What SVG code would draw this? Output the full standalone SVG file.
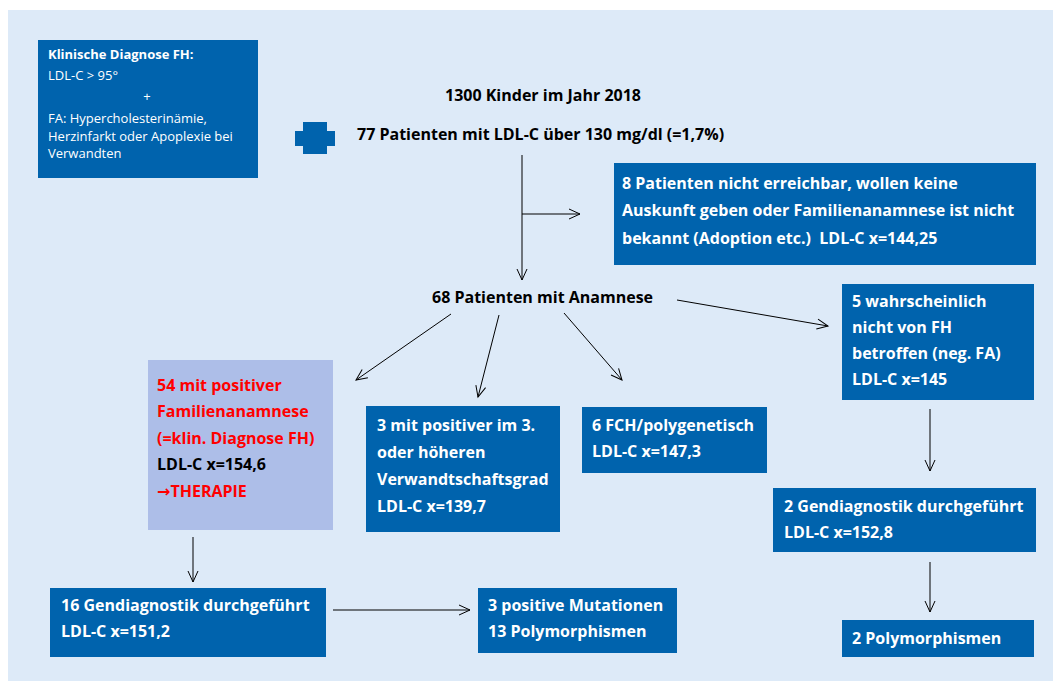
<svg xmlns="http://www.w3.org/2000/svg" width="1053" height="681" viewBox="0 0 1053 681">
<style>
.box{fill:#0063ad}
.lt{fill:#adbee8}
text{font-family:"Open Sans","Liberation Sans",sans-serif}
.w{fill:#fff;font-weight:bold;font-size:16px}
.b{fill:#000;font-weight:bold;font-size:16px}
.r{fill:#ff0000;font-weight:bold;font-size:16px}
.s{fill:#fff;font-size:13px}
.sb{fill:#fff;font-size:13px;font-weight:bold}
.c{stroke:#000;stroke-width:1;fill:none;marker-end:url(#ah)}
</style>
<defs>
<marker id="ah" markerWidth="14" markerHeight="14" refX="12" refY="6" orient="auto" markerUnits="userSpaceOnUse">
<polyline points="1,1 12,6 1,11" fill="none" stroke="#000" stroke-width="1"/>
</marker>
</defs>
<rect x="8" y="10" width="1045" height="671" fill="#ddeaf8"/>
<g id="legend">
<rect class="box" x="38" y="40" width="220" height="138"/>
<text class="sb" x="48" y="59">Klinische Diagnose FH:</text>
<text class="s" x="48" y="80">LDL-C &gt; 95°</text>
<text class="s" x="147" y="101" text-anchor="middle">+</text>
<text class="s" x="48" y="123">FA: Hypercholesterinämie,</text>
<text class="s" x="48" y="141">Herzinfarkt oder Apoplexie bei</text>
<text class="s" x="48" y="158">Verwandten</text>
</g>
<g id="cross">
<path class="box" d="M303,122 H327 V131 H335 V146 H327 V154 H303 V146 H295 V131 H303 Z"/>
</g>
<g id="title">
<text class="b" x="543" y="101" text-anchor="middle">1300 Kinder im Jahr 2018</text>
<text class="b" x="357" y="140">77 Patienten mit LDL-C über 130 mg/dl (=1,7%)</text>
</g>
<g id="n8">
<rect class="box" x="614" y="163" width="422" height="102"/>
<text class="w" x="622" y="189">8 Patienten nicht erreichbar, wollen keine</text>
<text class="w" x="622" y="216">Auskunft geben oder Familienanamnese ist nicht</text>
<text class="w" x="622" y="244" xml:space="preserve">bekannt (Adoption etc.)  LDL-C x=144,25</text>
</g>
<g id="n68">
<text class="b" x="432" y="303">68 Patienten mit Anamnese</text>
</g>
<g id="n5">
<rect class="box" x="842" y="284" width="192" height="116"/>
<text class="w" x="852" y="307">5 wahrscheinlich</text>
<text class="w" x="852" y="333">nicht von FH</text>
<text class="w" x="852" y="359">betroffen (neg. FA)</text>
<text class="w" x="852" y="385">LDL-C x=145</text>
</g>
<g id="n2g">
<rect class="box" x="773" y="488" width="263" height="64"/>
<text class="w" x="784" y="512">2 Gendiagnostik durchgeführt</text>
<text class="w" x="784" y="538">LDL-C x=152,8</text>
</g>
<g id="n2p">
<rect class="box" x="842" y="620" width="192" height="37"/>
<text class="w" x="852" y="644">2 Polymorphismen</text>
</g>
<g id="n54">
<rect class="lt" x="148" y="360" width="185" height="170"/>
<text class="r" x="157" y="391">54 mit positiver</text>
<text class="r" x="157" y="417">Familienanamnese</text>
<text class="r" x="157" y="444">(=klin. Diagnose FH)</text>
<text class="b" x="157" y="470">LDL-C x=154,6</text>
<text class="r" x="157" y="497"><tspan font-family="'DejaVu Sans',sans-serif">→</tspan>THERAPIE</text>
</g>
<g id="n3">
<rect class="box" x="366" y="406" width="194" height="126"/>
<text class="w" x="377" y="431">3 mit positiver im 3.</text>
<text class="w" x="377" y="458">oder höheren</text>
<text class="w" x="377" y="485">Verwandtschaftsgrad</text>
<text class="w" x="377" y="512">LDL-C x=139,7</text>
</g>
<g id="n6">
<rect class="box" x="582" y="407" width="185" height="66"/>
<text class="w" x="592" y="431">6 FCH/polygenetisch</text>
<text class="w" x="592" y="457">LDL-C x=147,3</text>
</g>
<g id="n16">
<rect class="box" x="50" y="588" width="276" height="69"/>
<text class="w" x="61" y="611">16 Gendiagnostik durchgeführt</text>
<text class="w" x="61" y="637">LDL-C x=151,2</text>
</g>
<g id="n3m">
<rect class="box" x="478" y="588" width="199" height="65"/>
<text class="w" x="488" y="611">3 positive Mutationen</text>
<text class="w" x="488" y="637">13 Polymorphismen</text>
</g>
<g id="connectors">
<line class="c" x1="522" y1="155" x2="522" y2="280"/>
<line class="c" x1="522" y1="214" x2="580" y2="214"/>
<line class="c" x1="677" y1="300" x2="828" y2="326"/>
<line class="c" x1="451" y1="314" x2="356" y2="380"/>
<line class="c" x1="499" y1="315" x2="478" y2="397"/>
<line class="c" x1="564" y1="313" x2="622" y2="380"/>
<line class="c" x1="930" y1="409" x2="930" y2="471"/>
<line class="c" x1="930" y1="562" x2="930" y2="612"/>
<line class="c" x1="193" y1="537" x2="193" y2="582"/>
<line class="c" x1="333" y1="610" x2="470" y2="610"/>
</g>
</svg>
